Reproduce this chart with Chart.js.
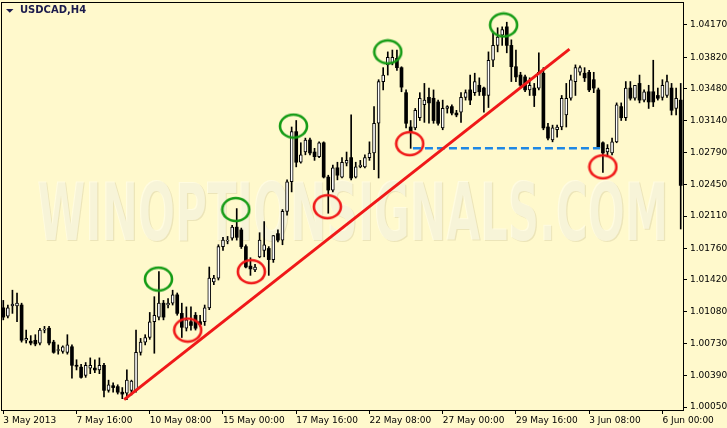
<!DOCTYPE html>
<html>
<head>
<meta charset="utf-8">
<title>USDCAD,H4</title>
<script src="https://cdn.jsdelivr.net/npm/chart.js@4.4.1/dist/chart.umd.min.js"></script>
<style>
  html, body { margin: 0; padding: 0; background: #fff9cc; }
  canvas { display: block; }
</style>
</head>
<body>
<canvas id="usdcad" width="727" height="428"></canvas>
<script>
"use strict";

// time axis labels, one every 16 H4 bars
const xLabels = ["3 May 2013", "7 May 16:00", "10 May 08:00", "15 May 00:00", "17 May 16:00",
  "22 May 08:00", "27 May 00:00", "29 May 16:00", "3 Jun 08:00", "6 Jun 00:00"];
const labelBars = [0, 16, 32, 48, 64, 80, 96, 112, 128, 144];

const yTicks = [1.0417, 1.0382, 1.0348, 1.0314, 1.0279, 1.0245, 1.0211,
  1.0176, 1.0142, 1.0108, 1.0073, 1.0039, 1.0005];

const opens = [
  1.0112, 1.0103, 1.0114, 1.0114, 1.0115, 1.0077, 1.0076, 1.0077, 1.0074, 1.0088,
  1.0090, 1.0075, 1.0066, 1.0065, 1.0064, 1.0070, 1.0050, 1.0048, 1.0039, 1.0047,
  1.0047, 1.0045, 1.0050, 1.0023, 1.0028, 1.0027, 1.0021, 1.0020, 1.0023, 1.0023,
  1.0064, 1.0075, 1.0080, 1.0097, 1.0102, 1.0117, 1.0115, 1.0117, 1.0126, 1.0106,
  1.0090, 1.0097, 1.0104, 1.0097, 1.0097, 1.0112, 1.0140, 1.0144, 1.0178, 1.0184,
  1.0187, 1.0199, 1.0196, 1.0178, 1.0157, 1.0153, 1.0167, 1.0174, 1.0176, 1.0164,
  1.0192, 1.0185, 1.0216, 1.0248, 1.0302, 1.0269, 1.0280, 1.0293, 1.0280, 1.0275,
  1.0290, 1.0253, 1.0239, 1.0263, 1.0253, 1.0268, 1.0274, 1.0253, 1.0264, 1.0264,
  1.0274, 1.0279, 1.0311, 1.0356, 1.0374, 1.0376, 1.0381, 1.0371, 1.0344, 1.0307,
  1.0306, 1.0317, 1.0331, 1.0339, 1.0338, 1.0334, 1.0306, 1.0327, 1.0329, 1.0322,
  1.0323, 1.0339, 1.0347, 1.0344, 1.0352, 1.0349, 1.0341, 1.0379, 1.0395, 1.0406,
  1.0415, 1.0395, 1.0372, 1.0363, 1.0361, 1.0347, 1.0349, 1.0349, 1.0365, 1.0307,
  1.0293, 1.0304, 1.0307, 1.0320, 1.0338, 1.0356, 1.0366, 1.0365, 1.0366, 1.0358,
  1.0347, 1.0290, 1.0280, 1.0279, 1.0291, 1.0329, 1.0317, 1.0349, 1.0338, 1.0354,
  1.0336, 1.0345, 1.0345, 1.0341, 1.0339, 1.0341, 1.0349, 1.0327, 1.0336
];
const highs = [
  1.0120, 1.0115, 1.0131, 1.0128, 1.0117, 1.0088, 1.0082, 1.0083, 1.0090, 1.0092,
  1.0092, 1.0077, 1.0072, 1.0071, 1.0083, 1.0072, 1.0056, 1.0051, 1.0053, 1.0058,
  1.0056, 1.0058, 1.0052, 1.0034, 1.0031, 1.0029, 1.0026, 1.0045, 1.0034, 1.0088,
  1.0079, 1.0083, 1.0107, 1.0124, 1.0151, 1.0120, 1.0122, 1.0131, 1.0128, 1.0117,
  1.0113, 1.0113, 1.0107, 1.0104, 1.0115, 1.0156, 1.0147, 1.0180, 1.0188, 1.0189,
  1.0201, 1.0219, 1.0198, 1.0180, 1.0166, 1.0159, 1.0193, 1.0205, 1.0178, 1.0190,
  1.0196, 1.0218, 1.0250, 1.0307, 1.0314, 1.0290, 1.0295, 1.0295, 1.0284, 1.0291,
  1.0291, 1.0255, 1.0266, 1.0269, 1.0274, 1.0280, 1.0320, 1.0269, 1.0271, 1.0277,
  1.0291, 1.0329, 1.0358, 1.0371, 1.0388, 1.0390, 1.0390, 1.0372, 1.0347, 1.0314,
  1.0327, 1.0344, 1.0354, 1.0349, 1.0347, 1.0336, 1.0336, 1.0330, 1.0331, 1.0325,
  1.0344, 1.0347, 1.0363, 1.0365, 1.0360, 1.0350, 1.0388, 1.0408, 1.0414, 1.0415,
  1.0420, 1.0401, 1.0390, 1.0366, 1.0363, 1.0360, 1.0354, 1.0387, 1.0371, 1.0311,
  1.0309, 1.0309, 1.0341, 1.0354, 1.0363, 1.0374, 1.0373, 1.0371, 1.0368, 1.0366,
  1.0349, 1.0291, 1.0288, 1.0295, 1.0333, 1.0333, 1.0356, 1.0356, 1.0352, 1.0363,
  1.0347, 1.0352, 1.0379, 1.0349, 1.0358, 1.0363, 1.0354, 1.0349, 1.0354
];
const lows = [
  1.0099, 1.0101, 1.0106, 1.0097, 1.0075, 1.0074, 1.0072, 1.0071, 1.0072, 1.0085,
  1.0072, 1.0063, 1.0062, 1.0063, 1.0062, 1.0036, 1.0045, 1.0036, 1.0037, 1.0041,
  1.0042, 1.0041, 1.0016, 1.0021, 1.0021, 1.0019, 1.0014, 1.0013, 1.0018, 1.0021,
  1.0061, 1.0072, 1.0078, 1.0063, 1.0099, 1.0099, 1.0112, 1.0115, 1.0104, 1.0080,
  1.0087, 1.0088, 1.0088, 1.0092, 1.0093, 1.0110, 1.0137, 1.0142, 1.0174, 1.0181,
  1.0185, 1.0185, 1.0176, 1.0155, 1.0147, 1.0151, 1.0166, 1.0167, 1.0147, 1.0161,
  1.0183, 1.0180, 1.0212, 1.0237, 1.0264, 1.0268, 1.0277, 1.0277, 1.0271, 1.0274,
  1.0252, 1.0214, 1.0237, 1.0250, 1.0252, 1.0265, 1.0250, 1.0252, 1.0263, 1.0263,
  1.0271, 1.0261, 1.0252, 1.0347, 1.0363, 1.0374, 1.0368, 1.0345, 1.0306, 1.0284,
  1.0304, 1.0314, 1.0312, 1.0311, 1.0311, 1.0309, 1.0304, 1.0322, 1.0320, 1.0318,
  1.0312, 1.0336, 1.0331, 1.0341, 1.0341, 1.0323, 1.0328, 1.0372, 1.0388, 1.0395,
  1.0387, 1.0356, 1.0356, 1.0349, 1.0345, 1.0341, 1.0329, 1.0347, 1.0304, 1.0293,
  1.0291, 1.0296, 1.0304, 1.0307, 1.0336, 1.0341, 1.0363, 1.0356, 1.0345, 1.0344,
  1.0284, 1.0258, 1.0275, 1.0277, 1.0290, 1.0314, 1.0314, 1.0336, 1.0336, 1.0333,
  1.0334, 1.0327, 1.0329, 1.0336, 1.0336, 1.0339, 1.0320, 1.0320, 1.0197
];
const closes = [
  1.0102, 1.0112, 1.0116, 1.0117, 1.0077, 1.0079, 1.0074, 1.0073, 1.0088, 1.0089,
  1.0074, 1.0064, 1.0067, 1.0070, 1.0072, 1.0050, 1.0049, 1.0037, 1.0050, 1.0050,
  1.0045, 1.0050, 1.0023, 1.0029, 1.0026, 1.0021, 1.0019, 1.0034, 1.0033, 1.0064,
  1.0075, 1.0080, 1.0097, 1.0104, 1.0117, 1.0102, 1.0117, 1.0126, 1.0106, 1.0091,
  1.0099, 1.0093, 1.0090, 1.0094, 1.0112, 1.0144, 1.0144, 1.0178, 1.0185, 1.0185,
  1.0199, 1.0188, 1.0178, 1.0156, 1.0154, 1.0156, 1.0185, 1.0180, 1.0164, 1.0190,
  1.0185, 1.0216, 1.0248, 1.0302, 1.0269, 1.0277, 1.0293, 1.0279, 1.0275, 1.0290,
  1.0253, 1.0239, 1.0263, 1.0255, 1.0269, 1.0271, 1.0252, 1.0264, 1.0266, 1.0274,
  1.0279, 1.0311, 1.0356, 1.0363, 1.0382, 1.0382, 1.0371, 1.0350, 1.0311, 1.0302,
  1.0325, 1.0338, 1.0336, 1.0333, 1.0314, 1.0311, 1.0327, 1.0329, 1.0322, 1.0320,
  1.0339, 1.0344, 1.0336, 1.0356, 1.0345, 1.0341, 1.0379, 1.0395, 1.0404, 1.0412,
  1.0395, 1.0372, 1.0361, 1.0352, 1.0347, 1.0352, 1.0341, 1.0366, 1.0306, 1.0295,
  1.0306, 1.0307, 1.0338, 1.0338, 1.0358, 1.0371, 1.0371, 1.0360, 1.0347, 1.0349,
  1.0285, 1.0279, 1.0284, 1.0291, 1.0331, 1.0317, 1.0349, 1.0338, 1.0352, 1.0336,
  1.0345, 1.0334, 1.0334, 1.0338, 1.0352, 1.0356, 1.0325, 1.0338, 1.0244
];

// drawn analysis: trend line, support level, swing highs / lows
const trendX = [26.4, 123.7];
const trendY = [1.0013, 1.0391];
const supportX = [89.5, 130.4];
const supportY = [1.0284, 1.0284];
const swingHighX = [33.9, 50.8, 63.4, 84.0, 109.3];
const swingHighY = [1.0143, 1.0218, 1.0308, 1.0388, 1.0417];
const swingLowX = [40.3, 54.2, 70.8, 88.8, 131.0];
const swingLowY = [1.0088, 1.0151, 1.0221, 1.0289, 1.0264];

const bg = "#fff9cc";
const isBull = opens.map((o, i) => closes[i] >= o);

function ring(color) {
  const c = document.createElement("canvas");
  c.width = 31;
  c.height = 27;
  const g = c.getContext("2d");
  g.strokeStyle = color;
  g.lineWidth = 2.6;
  g.beginPath();
  g.ellipse(15.5, 13.5, 13.5, 11.5, 0, 0, Math.PI * 2);
  g.stroke();
  return c;
}

Chart.defaults.font.family = "'DejaVu Sans', Verdana, sans-serif";
Chart.defaults.font.size = 9;
Chart.defaults.color = "#000";

const paintBackground = {
  id: "paintBackground",
  beforeDraw(chart) {
    const ctx = chart.ctx;
    ctx.save();
    ctx.fillStyle = bg;
    ctx.fillRect(0, 0, chart.width, chart.height);
    ctx.restore();
  }
};

const watermark = {
  id: "watermark",
  beforeDatasetsDraw(chart) {
    const ctx = chart.ctx;
    const text = "WINOPTIONSIGNALS.COM";
    ctx.save();
    ctx.font = "bold 40px 'DejaVu Sans Condensed', 'DejaVu Sans', sans-serif";
    const w = ctx.measureText(text).width;
    ctx.translate(37, 240);
    ctx.scale(631 / w, 59 / 29.2);
    ctx.fillStyle = "rgba(150, 140, 100, 0.18)";
    ctx.fillText(text, 0.9, 0.5);
    ctx.fillStyle = "rgba(255, 253, 236, 0.6)";
    ctx.fillText(text, 0, 0);
    ctx.restore();
  }
};

const frame = {
  id: "frame",
  afterDraw(chart) {
    const a = chart.chartArea;
    const ctx = chart.ctx;
    ctx.save();
    ctx.strokeStyle = "#000";
    ctx.lineWidth = 1;
    ctx.strokeRect(a.left + 0.5, a.top + 0.5, a.right - a.left, a.bottom - a.top);

    // symbol caption
    ctx.fillStyle = "#1b1b4d";
    ctx.beginPath();
    ctx.moveTo(6, 9);
    ctx.lineTo(13.5, 9);
    ctx.lineTo(9.75, 12.8);
    ctx.closePath();
    ctx.fill();
    ctx.font = "bold 10px 'DejaVu Sans', sans-serif";
    ctx.textBaseline = "middle";
    ctx.fillText("USDCAD,H4", 20, 10.5);
    ctx.restore();
  }
};

new Chart(document.getElementById("usdcad"), {
  type: "bar",
  data: {
    datasets: [
      {
        type: "line",
        data: trendX.map((x, i) => ({ x, y: trendY[i] })),
        borderColor: "#f01818",
        borderWidth: 3,
        pointRadius: 0,
        order: 0
      },
      {
        type: "line",
        data: supportX.map((x, i) => ({ x, y: supportY[i] })),
        borderColor: "#1e88e5",
        borderWidth: 2.5,
        borderDash: [8, 4],
        pointRadius: 0,
        order: 0
      },
      {
        type: "line",
        data: swingHighX.map((x, i) => ({ x, y: swingHighY[i] })),
        showLine: false,
        pointStyle: ring("#169c16"),
        pointRadius: 12,
        order: 0
      },
      {
        type: "line",
        data: swingLowX.map((x, i) => ({ x, y: swingLowY[i] })),
        showLine: false,
        pointStyle: ring("#f01818"),
        pointRadius: 12,
        order: 0
      },
      {
        // candle bodies
        data: opens.map((o, i) => ({ x: i, y: [o, closes[i]] })),
        backgroundColor: isBull.map(b => b ? "#ffffff" : "#000000"),
        borderColor: "#000000",
        borderWidth: isBull.map(b => b ? 1 : 0),
        borderSkipped: false,
        barThickness: 3,
        minBarLength: 1,
        grouped: false,
        order: 1
      },
      {
        // wicks
        data: highs.map((h, i) => ({ x: i, y: [lows[i], h] })),
        backgroundColor: "#000000",
        borderWidth: 0,
        barThickness: 1,
        grouped: false,
        order: 2
      }
    ]
  },
  options: {
    responsive: false,
    animation: false,
    devicePixelRatio: 1,
    layout: { autoPadding: false, padding: { top: 2, left: 1, right: 0, bottom: 0 } },
    plugins: {
      legend: { display: false },
      tooltip: { enabled: false }
    },
    scales: {
      x: {
        type: "linear",
        min: -0.5,
        max: 148.5,
        offset: false,
        border: { display: false },
        grid: { offset: false, drawOnChartArea: false, drawTicks: true, tickLength: 4, color: "#000" },
        ticks: {
          align: "start",
          autoSkip: false,
          maxRotation: 0,
          minRotation: 0,
          padding: 1,
          callback: v => xLabels[labelBars.indexOf(v)]
        },
        afterBuildTicks: scale => {
          scale.ticks = labelBars.map(v => ({ value: v }));
        },
        afterFit: scale => {
          scale.height = 18;
          scale.paddingLeft = 0;
          scale.paddingRight = 0;
        }
      },
      y: {
        type: "linear",
        position: "right",
        min: 1.00018,
        max: 1.04418,
        border: { display: false },
        grid: { drawOnChartArea: false, drawTicks: true, tickLength: 4, color: "#000" },
        ticks: {
          padding: 3,
          callback: v => v.toFixed(5)
        },
        afterBuildTicks: scale => {
          scale.ticks = yTicks.map(v => ({ value: v }));
        },
        afterFit: scale => {
          scale.width = 44;
          scale.paddingTop = 0;
          scale.paddingBottom = 0;
        }
      }
    }
  },
  plugins: [paintBackground, watermark, frame]
});
</script>
</body>
</html>
